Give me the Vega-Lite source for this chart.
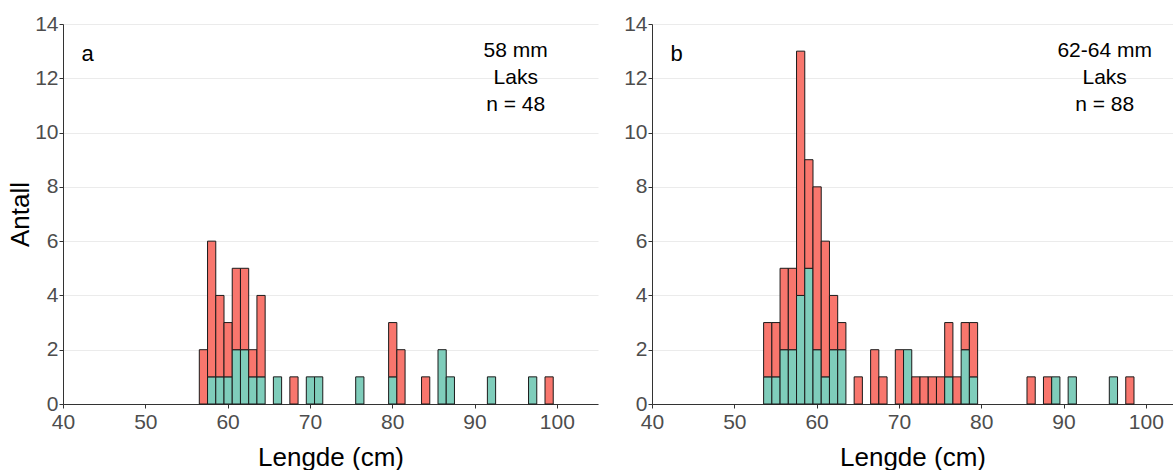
{
  "$schema": "https://vega.github.io/schema/vega-lite/v6.json",
  "padding": {"left": 7, "top": 13, "right": 0, "bottom": 0},
  "spacing": 25,
  "datasets": {
    "fisk": [
      {"panel": "a", "lengde": 57, "gruppe": "B", "antall": 2},
      {"panel": "a", "lengde": 58, "gruppe": "A", "antall": 1},
      {"panel": "a", "lengde": 58, "gruppe": "B", "antall": 5},
      {"panel": "a", "lengde": 59, "gruppe": "A", "antall": 1},
      {"panel": "a", "lengde": 59, "gruppe": "B", "antall": 3},
      {"panel": "a", "lengde": 60, "gruppe": "A", "antall": 1},
      {"panel": "a", "lengde": 60, "gruppe": "B", "antall": 2},
      {"panel": "a", "lengde": 61, "gruppe": "A", "antall": 2},
      {"panel": "a", "lengde": 61, "gruppe": "B", "antall": 3},
      {"panel": "a", "lengde": 62, "gruppe": "A", "antall": 2},
      {"panel": "a", "lengde": 62, "gruppe": "B", "antall": 3},
      {"panel": "a", "lengde": 63, "gruppe": "A", "antall": 1},
      {"panel": "a", "lengde": 63, "gruppe": "B", "antall": 1},
      {"panel": "a", "lengde": 64, "gruppe": "A", "antall": 1},
      {"panel": "a", "lengde": 64, "gruppe": "B", "antall": 3},
      {"panel": "a", "lengde": 66, "gruppe": "A", "antall": 1},
      {"panel": "a", "lengde": 68, "gruppe": "B", "antall": 1},
      {"panel": "a", "lengde": 70, "gruppe": "A", "antall": 1},
      {"panel": "a", "lengde": 71, "gruppe": "A", "antall": 1},
      {"panel": "a", "lengde": 76, "gruppe": "A", "antall": 1},
      {"panel": "a", "lengde": 80, "gruppe": "A", "antall": 1},
      {"panel": "a", "lengde": 80, "gruppe": "B", "antall": 2},
      {"panel": "a", "lengde": 81, "gruppe": "B", "antall": 2},
      {"panel": "a", "lengde": 84, "gruppe": "B", "antall": 1},
      {"panel": "a", "lengde": 86, "gruppe": "A", "antall": 2},
      {"panel": "a", "lengde": 87, "gruppe": "A", "antall": 1},
      {"panel": "a", "lengde": 92, "gruppe": "A", "antall": 1},
      {"panel": "a", "lengde": 97, "gruppe": "A", "antall": 1},
      {"panel": "a", "lengde": 99, "gruppe": "B", "antall": 1},
      {"panel": "b", "lengde": 48, "gruppe": "A", "antall": 1},
      {"panel": "b", "lengde": 54, "gruppe": "A", "antall": 1},
      {"panel": "b", "lengde": 54, "gruppe": "B", "antall": 2},
      {"panel": "b", "lengde": 55, "gruppe": "A", "antall": 1},
      {"panel": "b", "lengde": 55, "gruppe": "B", "antall": 2},
      {"panel": "b", "lengde": 56, "gruppe": "A", "antall": 2},
      {"panel": "b", "lengde": 56, "gruppe": "B", "antall": 3},
      {"panel": "b", "lengde": 57, "gruppe": "A", "antall": 2},
      {"panel": "b", "lengde": 57, "gruppe": "B", "antall": 3},
      {"panel": "b", "lengde": 58, "gruppe": "A", "antall": 4},
      {"panel": "b", "lengde": 58, "gruppe": "B", "antall": 9},
      {"panel": "b", "lengde": 59, "gruppe": "A", "antall": 5},
      {"panel": "b", "lengde": 59, "gruppe": "B", "antall": 4},
      {"panel": "b", "lengde": 60, "gruppe": "A", "antall": 2},
      {"panel": "b", "lengde": 60, "gruppe": "B", "antall": 6},
      {"panel": "b", "lengde": 61, "gruppe": "A", "antall": 1},
      {"panel": "b", "lengde": 61, "gruppe": "B", "antall": 5},
      {"panel": "b", "lengde": 62, "gruppe": "A", "antall": 2},
      {"panel": "b", "lengde": 62, "gruppe": "B", "antall": 2},
      {"panel": "b", "lengde": 63, "gruppe": "A", "antall": 2},
      {"panel": "b", "lengde": 63, "gruppe": "B", "antall": 1},
      {"panel": "b", "lengde": 65, "gruppe": "B", "antall": 1},
      {"panel": "b", "lengde": 67, "gruppe": "B", "antall": 2},
      {"panel": "b", "lengde": 68, "gruppe": "B", "antall": 1},
      {"panel": "b", "lengde": 70, "gruppe": "B", "antall": 2},
      {"panel": "b", "lengde": 71, "gruppe": "A", "antall": 2},
      {"panel": "b", "lengde": 72, "gruppe": "B", "antall": 1},
      {"panel": "b", "lengde": 73, "gruppe": "B", "antall": 1},
      {"panel": "b", "lengde": 74, "gruppe": "B", "antall": 1},
      {"panel": "b", "lengde": 75, "gruppe": "B", "antall": 1},
      {"panel": "b", "lengde": 76, "gruppe": "A", "antall": 1},
      {"panel": "b", "lengde": 76, "gruppe": "B", "antall": 2},
      {"panel": "b", "lengde": 77, "gruppe": "B", "antall": 1},
      {"panel": "b", "lengde": 78, "gruppe": "A", "antall": 2},
      {"panel": "b", "lengde": 78, "gruppe": "B", "antall": 1},
      {"panel": "b", "lengde": 79, "gruppe": "A", "antall": 1},
      {"panel": "b", "lengde": 79, "gruppe": "B", "antall": 2},
      {"panel": "b", "lengde": 86, "gruppe": "B", "antall": 1},
      {"panel": "b", "lengde": 88, "gruppe": "B", "antall": 1},
      {"panel": "b", "lengde": 89, "gruppe": "A", "antall": 1},
      {"panel": "b", "lengde": 91, "gruppe": "A", "antall": 1},
      {"panel": "b", "lengde": 96, "gruppe": "A", "antall": 1},
      {"panel": "b", "lengde": 98, "gruppe": "B", "antall": 1}
    ]
  },
  "config": {
    "font": "Liberation Sans",
    "view": {"stroke": null},
    "axis": {
      "domainColor": "#333333",
      "domainWidth": 1,
      "tickColor": "#333333",
      "tickSize": 4,
      "labelColor": "#4D4D4D",
      "labelFont": "Liberation Sans",
      "labelFontSize": 21,
      "titleFont": "Liberation Sans",
      "titleFontSize": 26,
      "titleFontWeight": "normal",
      "titleColor": "#000000",
      "gridColor": "#EBEBEB",
      "gridWidth": 1
    },
    "axisX": {"grid": false, "labelPadding": 3, "titlePadding": 12, "labelFlush": false},
    "axisY": {"labelPadding": 1, "titlePadding": 1}
  },
  "hconcat": [
    {
      "width": 535,
      "height": 380,
      "layer": [
        {
          "data": {"name": "fisk"},
          "transform": [{"filter": "datum.panel === 'a'"}],
          "mark": {"type": "bar", "binSpacing": 0, "stroke": "#1a1a1a", "strokeWidth": 1},
          "encoding": {
            "x": {
              "field": "lengde", "type": "quantitative",
              "bin": {"step": 1, "anchor": 0.5},
              "scale": {"domain": [40, 105], "nice": false},
              "axis": {"title": "Lengde (cm)", "values": [40, 50, 60, 70, 80, 90, 100], "format": "d"}
            },
            "y": {
              "aggregate": "sum", "field": "antall", "type": "quantitative",
              "scale": {"domain": [0, 14], "nice": false},
              "axis": {"title": "Antall", "values": [0, 2, 4, 6, 8, 10, 12, 14]}
            },
            "color": {
              "field": "gruppe", "type": "nominal",
              "scale": {"domain": ["A", "B"], "range": ["#7FCDBB", "#F8766D"]},
              "legend": null
            },
            "order": {"field": "gruppe", "sort": "ascending"}
          }
        },
        {
          "data": {"values": [{}]},
          "mark": {"type": "text", "fontSize": 22, "color": "#000000", "align": "center", "baseline": "middle"},
          "encoding": {"x": {"datum": 43, "type": "quantitative"}, "y": {"datum": 12.9, "type": "quantitative"}, "text": {"value": "a"}}
        },
        {
          "data": {"values": [{}]},
          "mark": {"type": "text", "fontSize": 21, "color": "#000000", "align": "center", "baseline": "middle", "lineHeight": 27},
          "encoding": {"x": {"datum": 95, "type": "quantitative"}, "y": {"datum": 13, "type": "quantitative"}, "text": {"value": ["58 mm", "Laks", "n = 48"]}}
        }
      ]
    },
    {
      "width": 521,
      "height": 380,
      "layer": [
        {
          "data": {"name": "fisk"},
          "transform": [{"filter": "datum.panel === 'b'"}],
          "mark": {"type": "bar", "binSpacing": 0, "stroke": "#1a1a1a", "strokeWidth": 1},
          "encoding": {
            "x": {
              "field": "lengde", "type": "quantitative",
              "bin": {"step": 1, "anchor": 0.5},
              "scale": {"domain": [40, 103.3], "nice": false},
              "axis": {"title": "Lengde (cm)", "values": [40, 50, 60, 70, 80, 90, 100], "format": "d"}
            },
            "y": {
              "aggregate": "sum", "field": "antall", "type": "quantitative",
              "scale": {"domain": [0, 14], "nice": false},
              "axis": {"title": null, "values": [0, 2, 4, 6, 8, 10, 12, 14]}
            },
            "color": {
              "field": "gruppe", "type": "nominal",
              "scale": {"domain": ["A", "B"], "range": ["#7FCDBB", "#F8766D"]},
              "legend": null
            },
            "order": {"field": "gruppe", "sort": "ascending"}
          }
        },
        {
          "data": {"values": [{}]},
          "mark": {"type": "text", "fontSize": 22, "color": "#000000", "align": "center", "baseline": "middle"},
          "encoding": {"x": {"datum": 43, "type": "quantitative"}, "y": {"datum": 12.9, "type": "quantitative"}, "text": {"value": "b"}}
        },
        {
          "data": {"values": [{}]},
          "mark": {"type": "text", "fontSize": 21, "color": "#000000", "align": "center", "baseline": "middle", "lineHeight": 27},
          "encoding": {"x": {"datum": 95, "type": "quantitative"}, "y": {"datum": 13, "type": "quantitative"}, "text": {"value": ["62-64 mm", "Laks", "n = 88"]}}
        }
      ]
    }
  ]
}
